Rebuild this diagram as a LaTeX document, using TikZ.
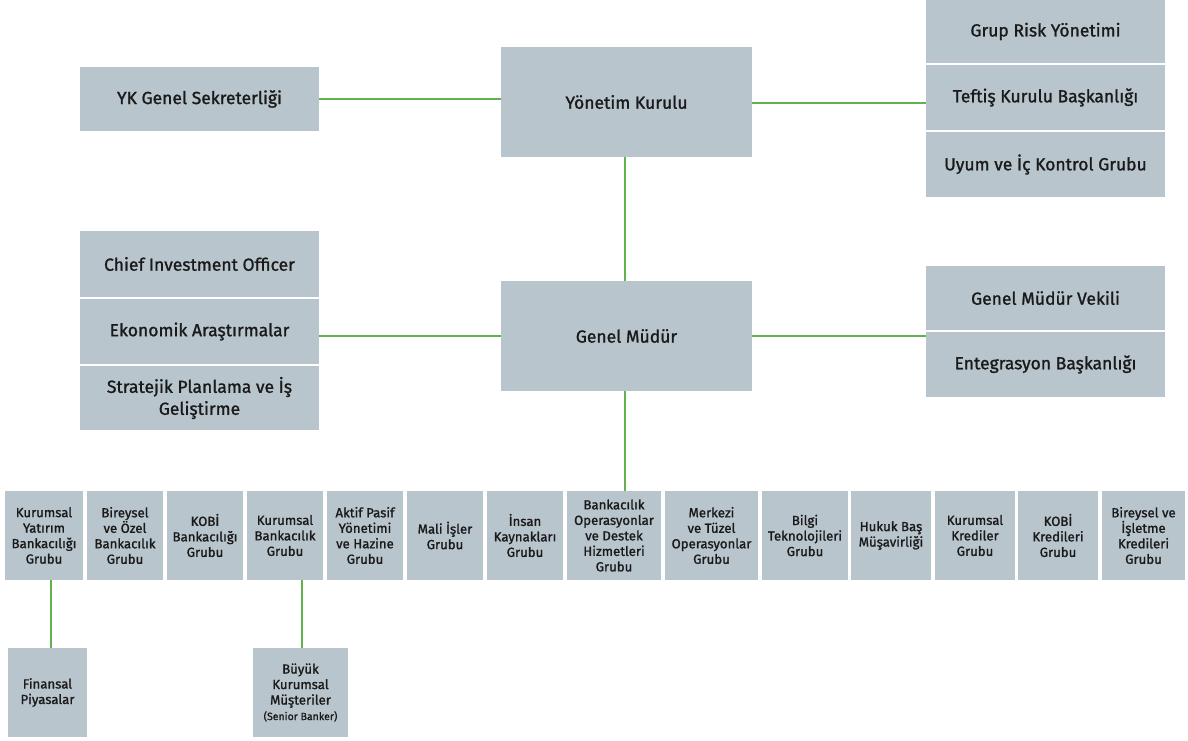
\documentclass[tikz,border=0pt]{standalone}
\usepackage{fontspec}
\setmainfont{Fira Sans}[FakeBold=1.2]
\definecolor{boxgray}{HTML}{B9C5CD}
\definecolor{lgreen}{HTML}{62B14F}
\definecolor{txt}{HTML}{1A1A1A}
\begin{document}
\begin{tikzpicture}[x=1pt,y=-1pt,
  bx/.style={fill=boxgray,draw=none,inner sep=1pt,align=center,text=txt,font=\fontsize{17.5}{22}\selectfont},
  sm/.style={bx,minimum height=89pt,font=\fontsize{13.2}{15.5}\selectfont},
  ln/.style={draw=lgreen,line width=1.4pt}]
\useasboundingbox (0,0) rectangle (1188,740);
% top level
\node[bx,minimum width=239pt,minimum height=64pt] (gs) at (199.5,99) {YK Genel Sekreterliği};
\node[bx,minimum width=251pt,minimum height=110pt] (yk) at (626.5,102) {Yönetim Kurulu};
\node[bx,minimum width=239pt,minimum height=63pt] (r1) at (1045.5,31.5) {Grup Risk Yönetimi};
\node[bx,minimum width=239pt,minimum height=65pt] (r2) at (1045.5,97.5) {Teftiş Kurulu Başkanlığı};
\node[bx,minimum width=239pt,minimum height=65pt] (r3) at (1045.5,164.5) {Uyum ve İç Kontrol Grubu};
% second level
\node[bx,minimum width=239pt,minimum height=66pt] (l1) at (199.5,264) {Chief Investment Officer};
\node[bx,minimum width=239pt,minimum height=65pt] (l2) at (199.5,331.5) {Ekonomik Araştırmalar};
\node[bx,minimum width=239pt,minimum height=64pt] (l3) at (199.5,398) {Stratejik Planlama ve İş\\Geliştirme};
\node[bx,minimum width=251pt,minimum height=110pt] (gm) at (626.5,336) {Genel Müdür};
\node[bx,minimum width=239pt,minimum height=64pt] (m1) at (1045.5,298) {Genel Müdür Vekili};
\node[bx,minimum width=239pt,minimum height=65pt] (m2) at (1045.5,364.5) {Entegrasyon Başkanlığı};
% bottom row
\node[sm,minimum width=78pt] (b1) at (44,535.5) {Kurumsal\\Yatırım\\Bankacılığı\\Grubu};
\node[sm,minimum width=76pt] (b2) at (125,535.5) {Bireysel\\ve Özel\\Bankacılık\\Grubu};
\node[sm,minimum width=76pt] (b3) at (205,535.5) {KOBİ\\Bankacılığı\\Grubu};
\node[sm,minimum width=76pt] (b4) at (285,535.5) {Kurumsal\\Bankacılık\\Grubu};
\node[sm,minimum width=76pt] (b5) at (365,535.5) {Aktif Pasif\\Yönetimi\\ve Hazine\\Grubu};
\node[sm,minimum width=76pt] (b6) at (445,535.5) {Mali İşler\\Grubu};
\node[sm,minimum width=76pt] (b7) at (525,535.5) {İnsan\\Kaynakları\\Grubu};
\node[sm,minimum width=94pt] (b8) at (614,535.5) {Bankacılık\\Operasyonlar\\ve Destek\\Hizmetleri\\Grubu};
\node[sm,minimum width=93pt] (b9) at (711.5,535.5) {Merkezi\\ve Tüzel\\Operasyonlar\\Grubu};
\node[sm,minimum width=86pt] (b10) at (805,535.5) {Bilgi\\Teknolojileri\\Grubu};
\node[sm,minimum width=80pt] (b11) at (891,535.5) {Hukuk Baş\\Müşavirliği};
\node[sm,minimum width=80pt] (b12) at (975,535.5) {Kurumsal\\Krediler\\Grubu};
\node[sm,minimum width=80pt] (b13) at (1058,535.5) {KOBİ\\Kredileri\\Grubu};
\node[sm,minimum width=83pt] (b14) at (1143.5,535.5) {Bireysel ve\\İşletme\\Kredileri\\Grubu};
% children
\node[sm,minimum width=79pt] (fp) at (47.5,692.5) {Finansal\\Piyasalar};
\node[sm,minimum width=95pt] (bk) at (300.5,692.5) {Büyük\\Kurumsal\\Müşteriler\\{\fontsize{10.5}{13}\selectfont(Senior Banker)}};
% connectors
\draw[ln] (gs.east) -- (gs.east -| yk.west);
\draw[ln] ([yshift=-1pt]yk.east) -- ([yshift=-1pt]yk.east -| r2.west);
\draw[ln] ([xshift=-1.5pt]yk.south) -- ([xshift=-1.5pt]gm.north);
\draw[ln] (gm.west) -- (gm.west -| l2.east);
\draw[ln] (gm.east) -- (gm.east -| m1.west);
\draw[ln] ([xshift=-1.5pt]gm.south) -- ([xshift=-1.5pt]gm.south |- b8.north);
\coordinate (fpc) at ([xshift=3.5pt]fp.north);
\draw[ln] (fpc) -- (fpc |- b1.south);
\coordinate (bkc) at ([xshift=1.5pt]bk.north);
\draw[ln] (bkc) -- (bkc |- b4.south);
\end{tikzpicture}
\end{document}
